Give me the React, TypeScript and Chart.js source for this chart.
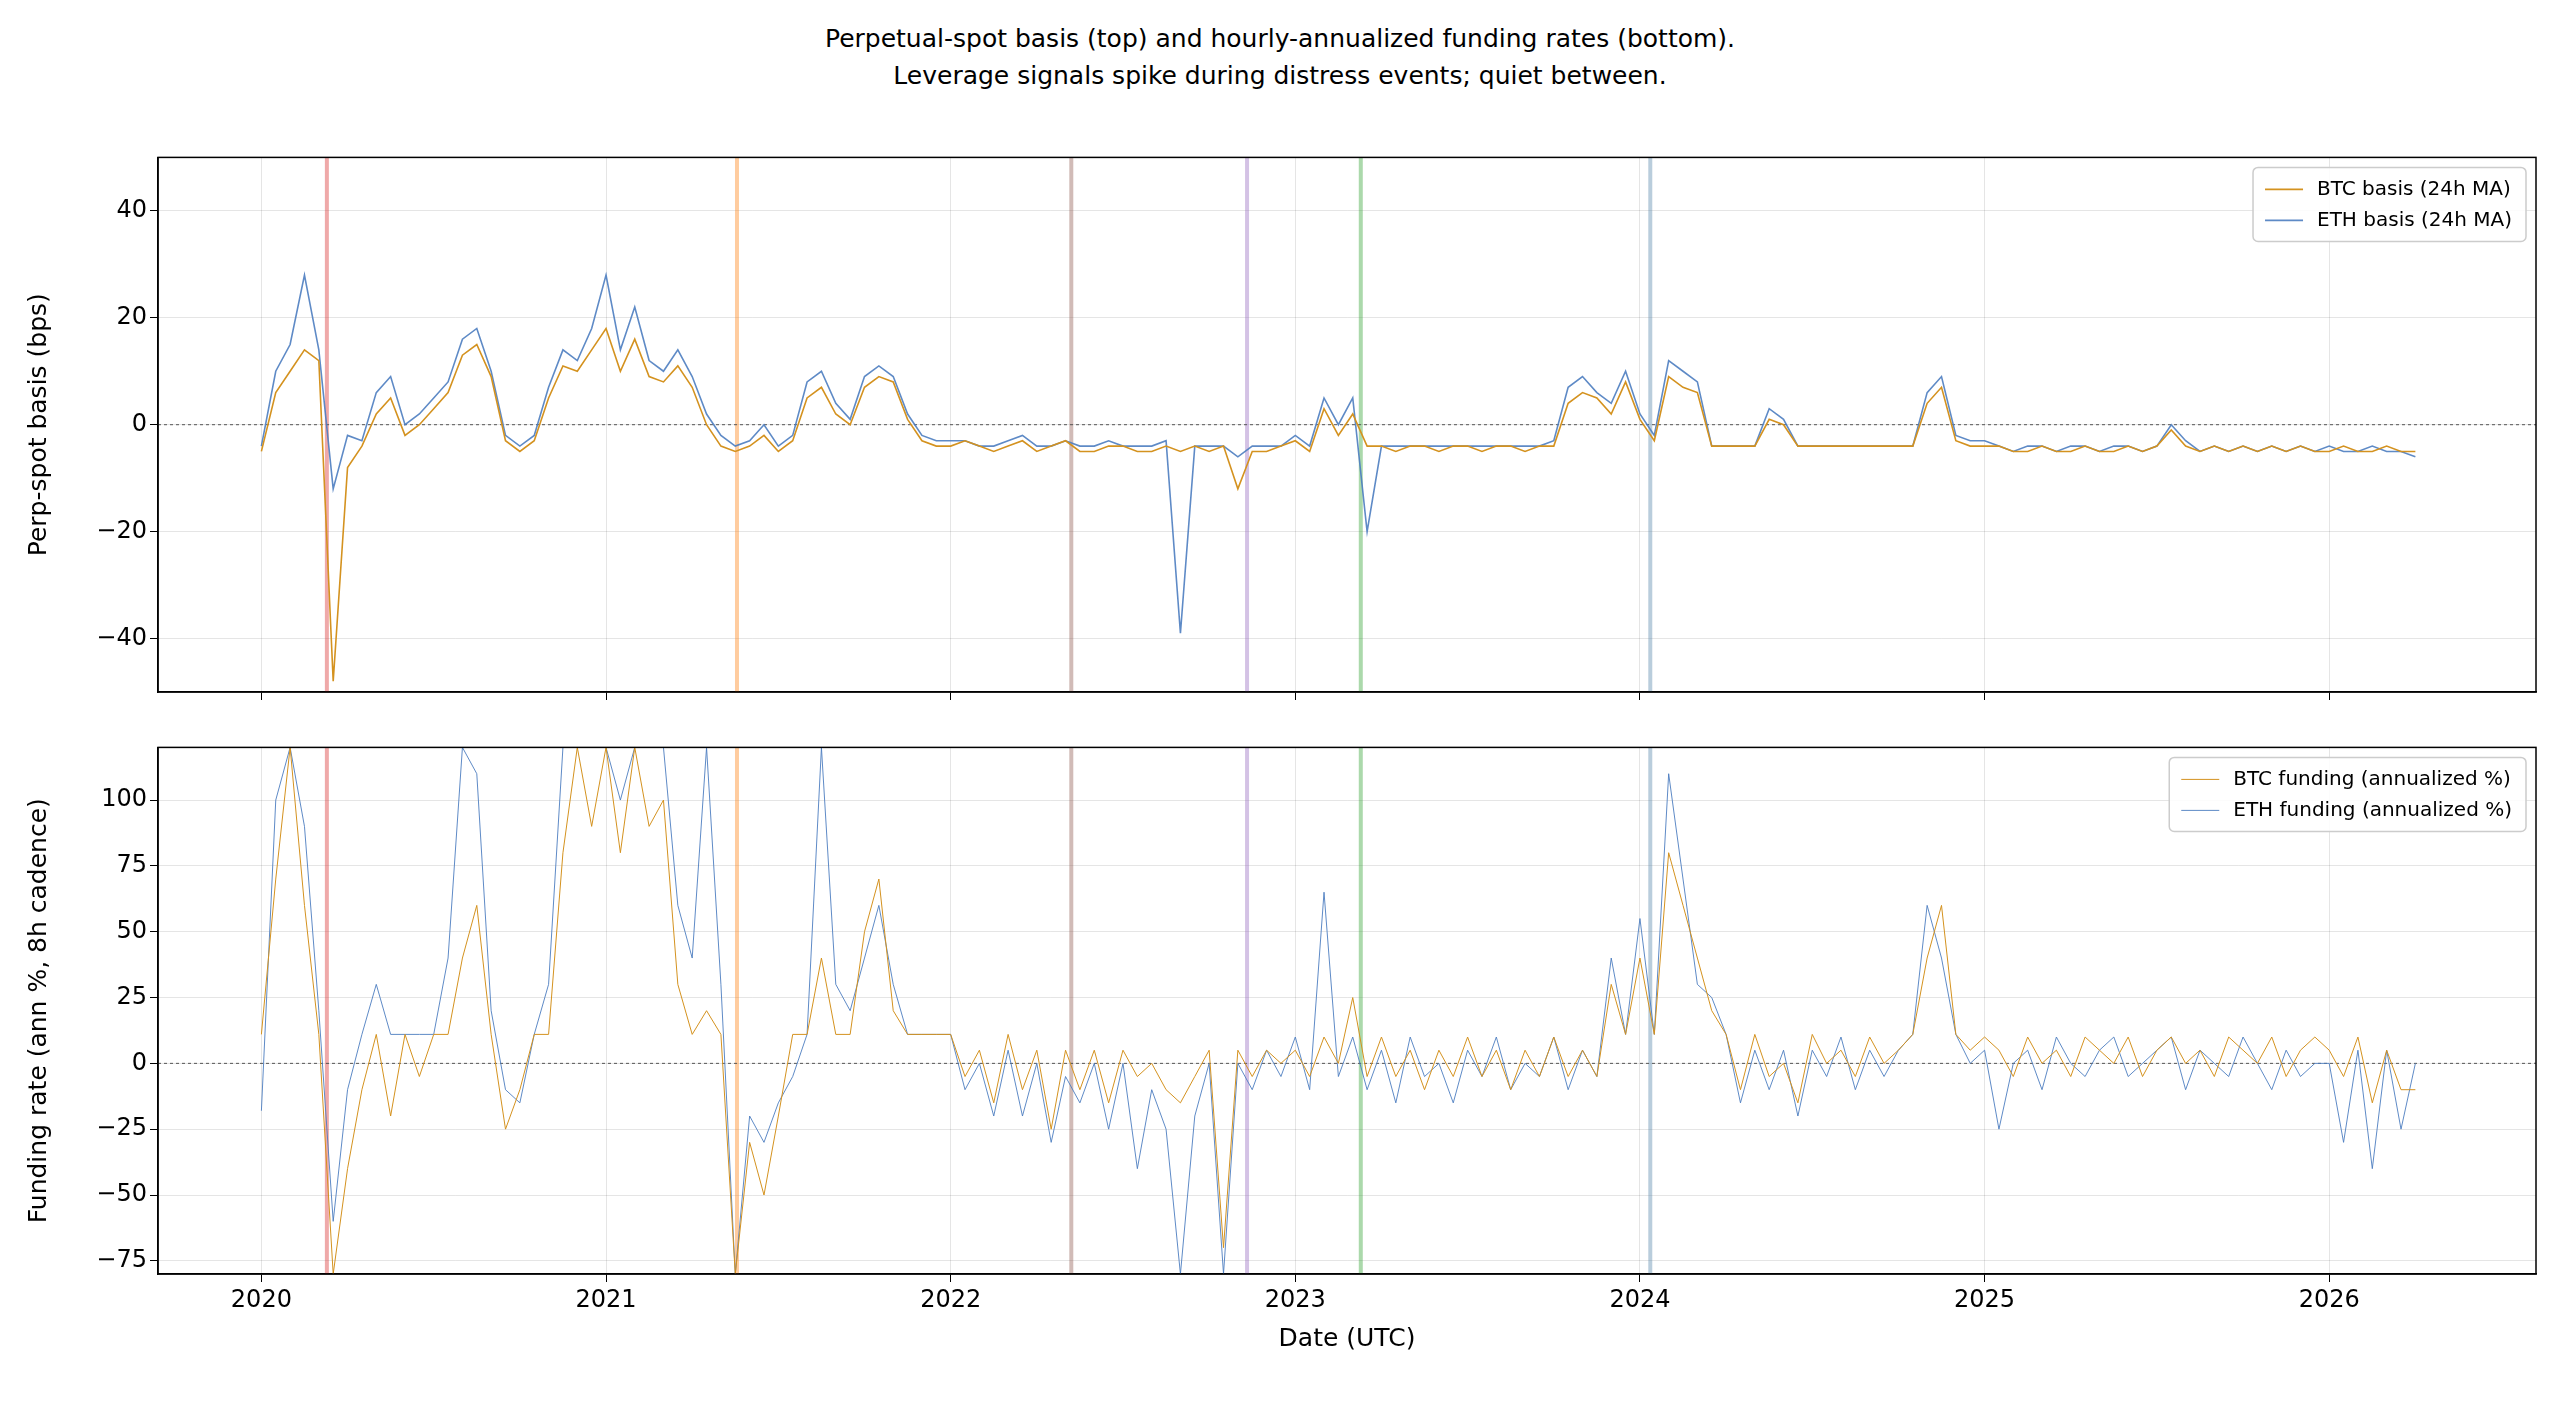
import React, { useEffect, useRef } from "react";
import { Chart, registerables } from "chart.js";
Chart.register(...registerables);

const START_YEAR = 2020;
const STEP = 1 / 24;

const btcBasis = [
  -5, 6, 10, 14, 12, -48, -8, -4, 2, 5, -2, 0, 3, 6, 13, 15, 9, -3, -5, -3, 5, 11, 10, 14,
  18, 10, 16, 9, 8, 11, 7, 0, -4, -5, -4, -2, -5, -3, 5, 7, 2, 0, 7, 9, 8, 1, -3, -4,
  -4, -3, -4, -5, -4, -3, -5, -4, -3, -5, -5, -4, -4, -5, -5, -4, -5, -4, -5, -4, -12, -5, -5, -4,
  -3, -5, 3, -2, 2, -4, -4, -5, -4, -4, -5, -4, -4, -5, -4, -4, -5, -4, -4, 4, 6, 5, 2, 8,
  1, -3, 9, 7, 6, -4, -4, -4, -4, 1, 0, -4, -4, -4, -4, -4, -4, -4, -4, -4, 4, 7, -3, -4,
  -4, -4, -5, -5, -4, -5, -5, -4, -5, -5, -4, -5, -4, -1, -4, -5, -4, -5, -4, -5, -4, -5, -4, -5,
  -5, -4, -5, -5, -4, -5, -5,
];
const ethBasis = [
  -4, 10, 15, 28, 14, -12, -2, -3, 6, 9, 0, 2, 5, 8, 16, 18, 10, -2, -4, -2, 7, 14, 12, 18,
  28, 14, 22, 12, 10, 14, 9, 2, -2, -4, -3, 0, -4, -2, 8, 10, 4, 1, 9, 11, 9, 2, -2, -3,
  -3, -3, -4, -4, -3, -2, -4, -4, -3, -4, -4, -3, -4, -4, -4, -3, -39, -4, -4, -4, -6, -4, -4, -4,
  -2, -4, 5, 0, 5, -20, -4, -4, -4, -4, -4, -4, -4, -4, -4, -4, -4, -4, -3, 7, 9, 6, 4, 10,
  2, -2, 12, 10, 8, -4, -4, -4, -4, 3, 1, -4, -4, -4, -4, -4, -4, -4, -4, -4, 6, 9, -2, -3,
  -3, -4, -5, -4, -4, -5, -4, -4, -5, -4, -4, -5, -4, 0, -3, -5, -4, -5, -4, -5, -4, -5, -4, -5,
  -4, -5, -5, -4, -5, -5, -6,
];
const btcFunding = [
  11, 70, 120, 60, 11, -80, -40, -10, 11, -20, 11, -5, 11, 11, 40, 60, 11, -25, -10, 11, 11, 80, 120, 90,
  120, 80, 120, 90, 100, 30, 11, 20, 11, -80, -30, -50, -20, 11, 11, 40, 11, 11, 50, 70, 20, 11, 11, 11,
  11, -5, 5, -15, 11, -10, 5, -25, 5, -10, 5, -15, 5, -5, 0, -10, -15, -5, 5, -70, 5, -5, 5, 0,
  5, -5, 10, 0, 25, -5, 10, -5, 5, -10, 5, -5, 10, -5, 5, -10, 5, -5, 10, -5, 5, -5, 30, 11,
  40, 11, 80, 60, 40, 20, 11, -10, 11, -5, 0, -15, 11, 0, 5, -5, 10, 0, 5, 11, 40, 60, 11, 5,
  10, 5, -5, 10, 0, 5, -5, 10, 5, 0, 10, -5, 5, 10, 0, 5, -5, 10, 5, 0, 10, -5, 5, 10,
  5, -5, 10, -15, 5, -10, -10,
];
const ethFunding = [
  -18, 100, 120, 90, 20, -60, -10, 11, 30, 11, 11, 11, 11, 40, 120, 110, 20, -10, -15, 11, 30, 120, 120, 120,
  120, 100, 120, 120, 120, 60, 40, 120, 30, -80, -20, -30, -15, -5, 11, 120, 30, 20, 40, 60, 30, 11, 11, 11,
  11, -10, 0, -20, 5, -20, 0, -30, -5, -15, 0, -25, 0, -40, -10, -25, -80, -20, 0, -80, 0, -10, 5, -5,
  10, -10, 65, -5, 10, -10, 5, -15, 10, -5, 0, -15, 5, -5, 10, -10, 0, -5, 10, -10, 5, -5, 40, 11,
  55, 11, 110, 70, 30, 25, 11, -15, 5, -10, 5, -20, 5, -5, 10, -10, 5, -5, 5, 11, 60, 40, 11, 0,
  5, -25, 0, 5, -10, 10, 0, -5, 5, 10, -5, 0, 5, 10, -10, 5, 0, -5, 10, 0, -10, 5, -5, 0,
  0, -30, 5, -40, 5, -25, 0,
];
const eventYears = [2020.19, 2021.38, 2022.35, 2022.86, 2023.19, 2024.03];
const eventColors = ["#d62728", "#ff7f0e", "#8c564b", "#9467bd", "#2ca02c", "#4f81a8"];
const yearTicks = [2020, 2021, 2022, 2023, 2024, 2025, 2026];
const basisTicks = [-40, -20, 0, 20, 40];
const fundingTicks = [-75, -50, -25, 0, 25, 50, 75, 100];

const BTC = "#d4921f";
const ETH = "rgba(76,125,192,0.9)";
const FONT = "DejaVu Sans";

const toPts = (arr: number[]) => arr.map((v, i) => ({ x: START_YEAR + i * STEP, y: v }));

const decor = {
  id: "decor",
  beforeDatasetsDraw(chart: any) {
    const { ctx, chartArea: a, scales } = chart;
    ctx.save();
    ctx.beginPath();
    ctx.rect(a.left, a.top, a.right - a.left, a.bottom - a.top);
    ctx.clip();
    eventYears.forEach((yr, i) => {
      const x = scales.x.getPixelForValue(yr);
      ctx.strokeStyle = eventColors[i];
      ctx.globalAlpha = 0.4;
      ctx.lineWidth = 4;
      ctx.beginPath();
      ctx.moveTo(x, a.top);
      ctx.lineTo(x, a.bottom);
      ctx.stroke();
    });
    ctx.globalAlpha = 1;
    const y0 = scales.y.getPixelForValue(0);
    ctx.strokeStyle = "#555";
    ctx.lineWidth = 1;
    ctx.setLineDash([3, 3]);
    ctx.beginPath();
    ctx.moveTo(a.left, y0);
    ctx.lineTo(a.right, y0);
    ctx.stroke();
    ctx.restore();
  },
  afterDatasetsDraw(chart: any) {
    const { ctx, chartArea: a } = chart;
    ctx.save();
    ctx.strokeStyle = "#000";
    ctx.lineWidth = 1.5;
    ctx.strokeRect(a.left, a.top, a.right - a.left, a.bottom - a.top);
    const ds = chart.data.datasets;
    ctx.font = `20px ${FONT}`;
    const w = Math.max(...ds.map((d: any) => ctx.measureText(d.label).width)) + 78;
    const h = ds.length * 31 + 12;
    const lx = a.right - w - 10, ly = a.top + 10;
    ctx.fillStyle = "rgba(255,255,255,0.85)";
    ctx.strokeStyle = "#ccc";
    ctx.lineWidth = 1.5;
    ctx.beginPath();
    ctx.roundRect(lx, ly, w, h, 5);
    ctx.fill();
    ctx.stroke();
    ds.forEach((d: any, i: number) => {
      const yy = ly + 22 + i * 31;
      ctx.strokeStyle = d.borderColor;
      ctx.lineWidth = d.borderWidth;
      ctx.beginPath();
      ctx.moveTo(lx + 12, yy);
      ctx.lineTo(lx + 50, yy);
      ctx.stroke();
      ctx.fillStyle = "#000";
      ctx.textBaseline = "middle";
      ctx.fillText(d.label, lx + 64, yy);
    });
    ctx.restore();
  },
};

function makeOpts(top: boolean, ymin: number, ymax: number, yticks: number[], ytitle: string) {
  return {
    animation: false,
    responsive: false,
    maintainAspectRatio: false,
    layout: { padding: { top: 10, right: 24, left: 20, bottom: 0 } },
    plugins: { legend: { display: false }, tooltip: { enabled: false } },
    elements: { point: { radius: 0 }, line: { tension: 0 } },
    scales: {
      x: {
        type: "linear",
        min: 2019.7,
        max: 2026.6,
        afterBuildTicks: (s: any) => { s.ticks = yearTicks.map((v) => ({ value: v })); },
        afterFit: (s: any) => { s.height = top ? 20 : 80; },
        grid: { color: "rgba(0,0,0,0.1)", tickColor: "#000", tickLength: 8 },
        border: { color: "#000", width: 1.5 },
        ticks: {
          display: !top,
          callback: (v: number) => String(v),
          color: "#000",
          font: { family: FONT, size: 24 },
          maxRotation: 0,
          padding: 4,
        },
        title: { display: !top, text: "Date (UTC)", color: "#000", font: { family: FONT, size: 25 }, padding: 0 },
      },
      y: {
        min: ymin,
        max: ymax,
        afterBuildTicks: (s: any) => { s.ticks = yticks.map((v) => ({ value: v })); },
        afterFit: (s: any) => { s.width = 138; },
        grid: { color: "rgba(0,0,0,0.1)", tickColor: "#000", tickLength: 8 },
        border: { color: "#000", width: 1.5 },
        ticks: {
          color: "#000",
          font: { family: FONT, size: 24 },
          callback: (v: number) => (v < 0 ? "\u2212" + Math.abs(v) : String(v)),
        },
        title: { display: true, text: ytitle, color: "#000", font: { family: FONT, size: 25 }, padding: 4 },
      },
    },
  } as any;
}

function Panel({ top }: { top: boolean }) {
  const ref = useRef<HTMLCanvasElement>(null);
  useEffect(() => {
    const datasets = top
      ? [
          { label: "BTC basis (24h MA)", data: toPts(btcBasis), borderColor: BTC, borderWidth: 1.6 },
          { label: "ETH basis (24h MA)", data: toPts(ethBasis), borderColor: ETH, borderWidth: 1.6 },
        ]
      : [
          { label: "BTC funding (annualized %)", data: toPts(btcFunding), borderColor: BTC, borderWidth: 1 },
          { label: "ETH funding (annualized %)", data: toPts(ethFunding), borderColor: ETH, borderWidth: 1 },
        ];
    const c = new Chart(ref.current!, {
      type: "line",
      data: { datasets } as any,
      options: top
        ? makeOpts(true, -50, 50, basisTicks, "Perp-spot basis (bps)")
        : makeOpts(false, -80, 120, fundingTicks, "Funding rate (ann %, 8h cadence)"),
      plugins: [decor],
    });
    return () => c.destroy();
  }, [top]);
  const style: React.CSSProperties = top
    ? { position: "absolute", left: 0, top: 140, width: 2560, height: 572 }
    : { position: "absolute", left: 0, top: 730, width: 2560, height: 624 };
  return <canvas ref={ref} width={2560} height={top ? 572 : 624} style={style} />;
}

export default function App() {
  return (
    <div style={{ position: "absolute", left: 0, top: 0, width: 2560, height: 1405, background: "#fff" }}>
      <div
        style={{
          position: "absolute",
          top: 20,
          left: 0,
          width: 2560,
          textAlign: "center",
          fontFamily: FONT,
          fontSize: 25,
          lineHeight: "37px",
          color: "#000",
        }}
      >
        Perpetual-spot basis (top) and hourly-annualized funding rates (bottom).
        <br />
        Leverage signals spike during distress events; quiet between.
      </div>
      <Panel top={true} />
      <Panel top={false} />
    </div>
  );
}
